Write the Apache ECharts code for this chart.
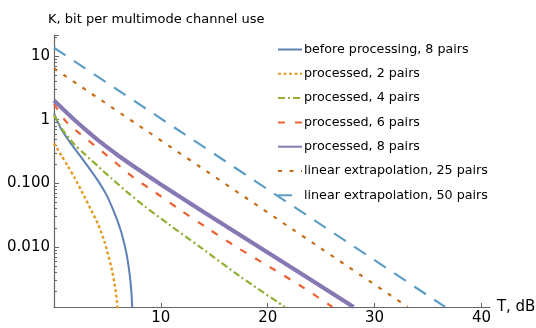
<!DOCTYPE html>
<html>
<head>
<meta charset="utf-8">
<script src="https://cdn.jsdelivr.net/npm/echarts@6/dist/echarts.min.js"></script>
<style>
  html, body { margin: 0; padding: 0; background: #fff; }
  #chart { width: 536px; height: 328px; }
</style>
</head>
<body>
<div id="chart"></div>
<script>
// T, dB and K values
var tBefore8 = [0, 0.67, 1.45, 2.39, 3.32, 4.26, 4.92, 5.51, 5.95, 6.29, 6.76, 7.07, 7.23, 7.35]
var kBefore8 = [1.256, 0.711, 0.452, 0.277, 0.17, 0.1007, 0.0652, 0.0393, 0.0254, 0.0171, 0.00826, 0.00382, 0.00209, 0.0009]

var tProc2 = [0, 0.67, 1.29, 1.92, 2.7, 3.48, 4.1, 4.73, 5.36, 5.66, 5.88, 5.97]
var kProc2 = [0.424, 0.277, 0.186, 0.123, 0.0688, 0.0378, 0.0234, 0.012, 0.00485, 0.00266, 0.00145, 0.0009]

var tProc4 = [0, 0.82, 1.92, 2.86, 4.1, 5.36, 7.07, 8.47, 10.66, 13.62, 17.37, 21.6]
var kProc4 = [1.18, 0.685, 0.407, 0.288, 0.186, 0.12, 0.0676, 0.0437, 0.0232, 0.0101, 0.00347, 0.00114]

var tProc6 = [0, 1.14, 2.39, 5.04, 7.54, 8.94, 11.75, 14.4, 17.3, 20.18, 22.99, 26.05]
var kProc6 = [1.76, 0.927, 0.608, 0.267, 0.119, 0.083, 0.0388, 0.0195, 0.00944, 0.00485, 0.0025, 0.00114]

var tProc8 = [0, 1, 2, 3, 4, 5, 6, 8, 10, 14, 20, 28.04]
var kProc8 = [2.0, 1.38, 0.96, 0.685, 0.495, 0.366, 0.274, 0.16, 0.096, 0.0353, 0.00815, 0.00114]

var tLin25 = [0, 33.1]
var kLin25 = [6.4, 0.00114]

var tLin50 = [0, 36.6]
var kLin50 = [13.5, 0.00114]

var names = [
  'before processing, 8 pairs',
  'processed, 2 pairs',
  'processed, 4 pairs',
  'processed, 6 pairs',
  'processed, 8 pairs',
  'linear extrapolation, 25 pairs',
  'linear extrapolation, 50 pairs'
]

function pairs(t, k) {
  var out = []
  for (var i = 0; i < t.length; i++) {
    out.push([t[i], k[i]])
  }
  return out
}

function line(name, t, k, color, width, type) {
  return {
    name: name,
    type: 'line',
    data: pairs(t, k),
    symbol: 'none',
    smooth: 0.25,
    clip: true,
    lineStyle: { color: color, width: width, type: type, cap: 'butt' },
    itemStyle: { color: color }
  }
}

var chart = echarts.init(document.getElementById('chart'))
chart.setOption({
  animation: false,
  textStyle: { fontFamily: 'DejaVu Sans' },
  grid: { left: 54, right: 46, top: 35, bottom: 21, outerBoundsMode: 'none' },
  legend: {
    orient: 'vertical',
    left: 272,
    top: 38,
    itemWidth: 24,
    itemHeight: 14,
    itemGap: 10.3 + 1,
    itemStyle: { opacity: 0 },
    textStyle: { fontSize: 12.7, color: '#000', padding: [0, 0, 0, -3] },
    data: names
  },
  xAxis: {
    type: 'value',
    min: 0,
    max: 40.8,
    interval: 10,
    name: 'T, dB',
    nameLocation: 'end',
    nameGap: 2,
    nameTextStyle: { fontSize: 15, color: '#000' },
    axisLine: { lineStyle: { color: '#666', width: 1.2 } },
    axisTick: { inside: true, length: 4, lineStyle: { color: '#666' } },
    axisLabel: {
      fontSize: 15,
      color: '#000',
      margin: 4,
      showMaxLabel: false,
      formatter: function (v) { return v === 0 ? '' : String(v) }
    },
    splitLine: { show: false }
  },
  yAxis: {
    type: 'log',
    logBase: 10,
    min: 0.001137,
    max: 21.4,
    name: 'K, bit per multimode channel use',
    nameLocation: 'end',
    nameGap: 9,
    nameTextStyle: { fontSize: 13, color: '#000', align: 'left', padding: [0, 0, 0, -6] },
    axisLine: { show: true, lineStyle: { color: '#666', width: 1.2 } },
    axisTick: { inside: true, length: 5, lineStyle: { color: '#666' } },
    minorTick: { show: true, splitNumber: 9, length: 3, lineStyle: { color: '#666' } },
    axisLabel: {
      fontSize: 15,
      color: '#000',
      margin: 4,
      showMinLabel: false,
      showMaxLabel: false,
      formatter: function (v) { return v >= 1 ? String(Math.round(v)) : v.toFixed(3) }
    },
    splitLine: { show: false }
  },
  series: [
    line(names[0], tBefore8, kBefore8, '#5E81B5', 2, 'solid'),
    line(names[1], tProc2, kProc2, '#E19C24', 2.4, [3, 2.5]),
    line(names[2], tProc4, kProc4, '#8FB032', 2.2, [7, 3, 2, 3]),
    line(names[3], tProc6, kProc6, '#EB6235', 2.2, [7, 10]),
    line(names[4], tProc8, kProc8, '#8778B3', 4.2, 'solid'),
    line(names[5], tLin25, kLin25, '#C56E1A', 2.2, [4, 7.5]),
    line(names[6], tLin50, kLin50, '#5D9EC7', 2.2, [14, 10])
  ]
})
</script>
</body>
</html>
